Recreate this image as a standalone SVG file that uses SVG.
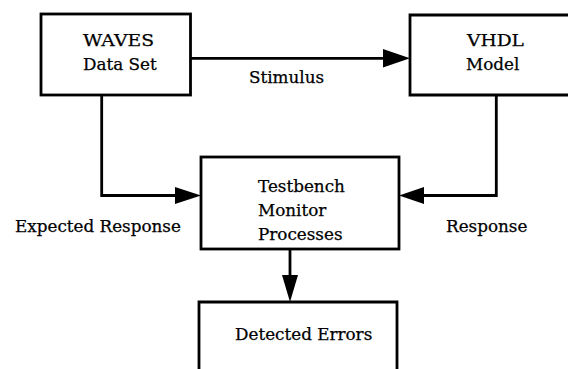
<svg xmlns="http://www.w3.org/2000/svg" width="568" height="369" viewBox="0 0 568 369">
<defs>
<style>
.box{fill:none;stroke:#000;stroke-width:2.8}
.ln{fill:none;stroke:#000;stroke-width:2.8}
.ah{fill:#000;stroke:none}
text{font-family:"DejaVu Serif","Liberation Serif",serif;font-size:16.8px;fill:#000;stroke:#000;stroke-width:0.25}
</style>
</defs>
<rect width="568" height="369" fill="#fff"/>
<g id="waves">
<rect class="box" x="41" y="14" width="149.5" height="81"/>
<text x="83" y="45.5" textLength="71" lengthAdjust="spacingAndGlyphs">WAVES</text>
<text x="83" y="69.5">Data Set</text>
</g>
<g id="vhdl">
<path class="box" d="M570,15 H410 V95 H570"/>
<text x="467" y="46" textLength="57" lengthAdjust="spacingAndGlyphs">VHDL</text>
<text x="466" y="70">Model</text>
</g>
<g id="testbench">
<rect class="box" x="201" y="157" width="198" height="92"/>
<text x="258" y="191.5">Testbench</text>
<text x="258" y="215.5">Monitor</text>
<text x="258" y="240">Processes</text>
</g>
<g id="errors">
<path class="box" d="M199,372 V302 H397 V372"/>
<text x="235" y="340">Detected Errors</text>
</g>
<g id="connectors">
<path class="ln" d="M190.5,58.3 H386"/>
<polygon class="ah" points="383,49 410,58.3 383,67.5"/>
<path class="ln" d="M101.7,95 V195.5 H177"/>
<polygon class="ah" points="175,187 201,195.5 175,204"/>
<path class="ln" d="M496.3,95 V195.5 H422"/>
<polygon class="ah" points="424,187 399,195.5 424,204"/>
<path class="ln" d="M290,249 V278"/>
<polygon class="ah" points="282,275 290,302 298,275"/>
<text x="249" y="83">Stimulus</text>
<text x="15" y="232">Expected Response</text>
<text x="446" y="232">Response</text>
</g>
</svg>
